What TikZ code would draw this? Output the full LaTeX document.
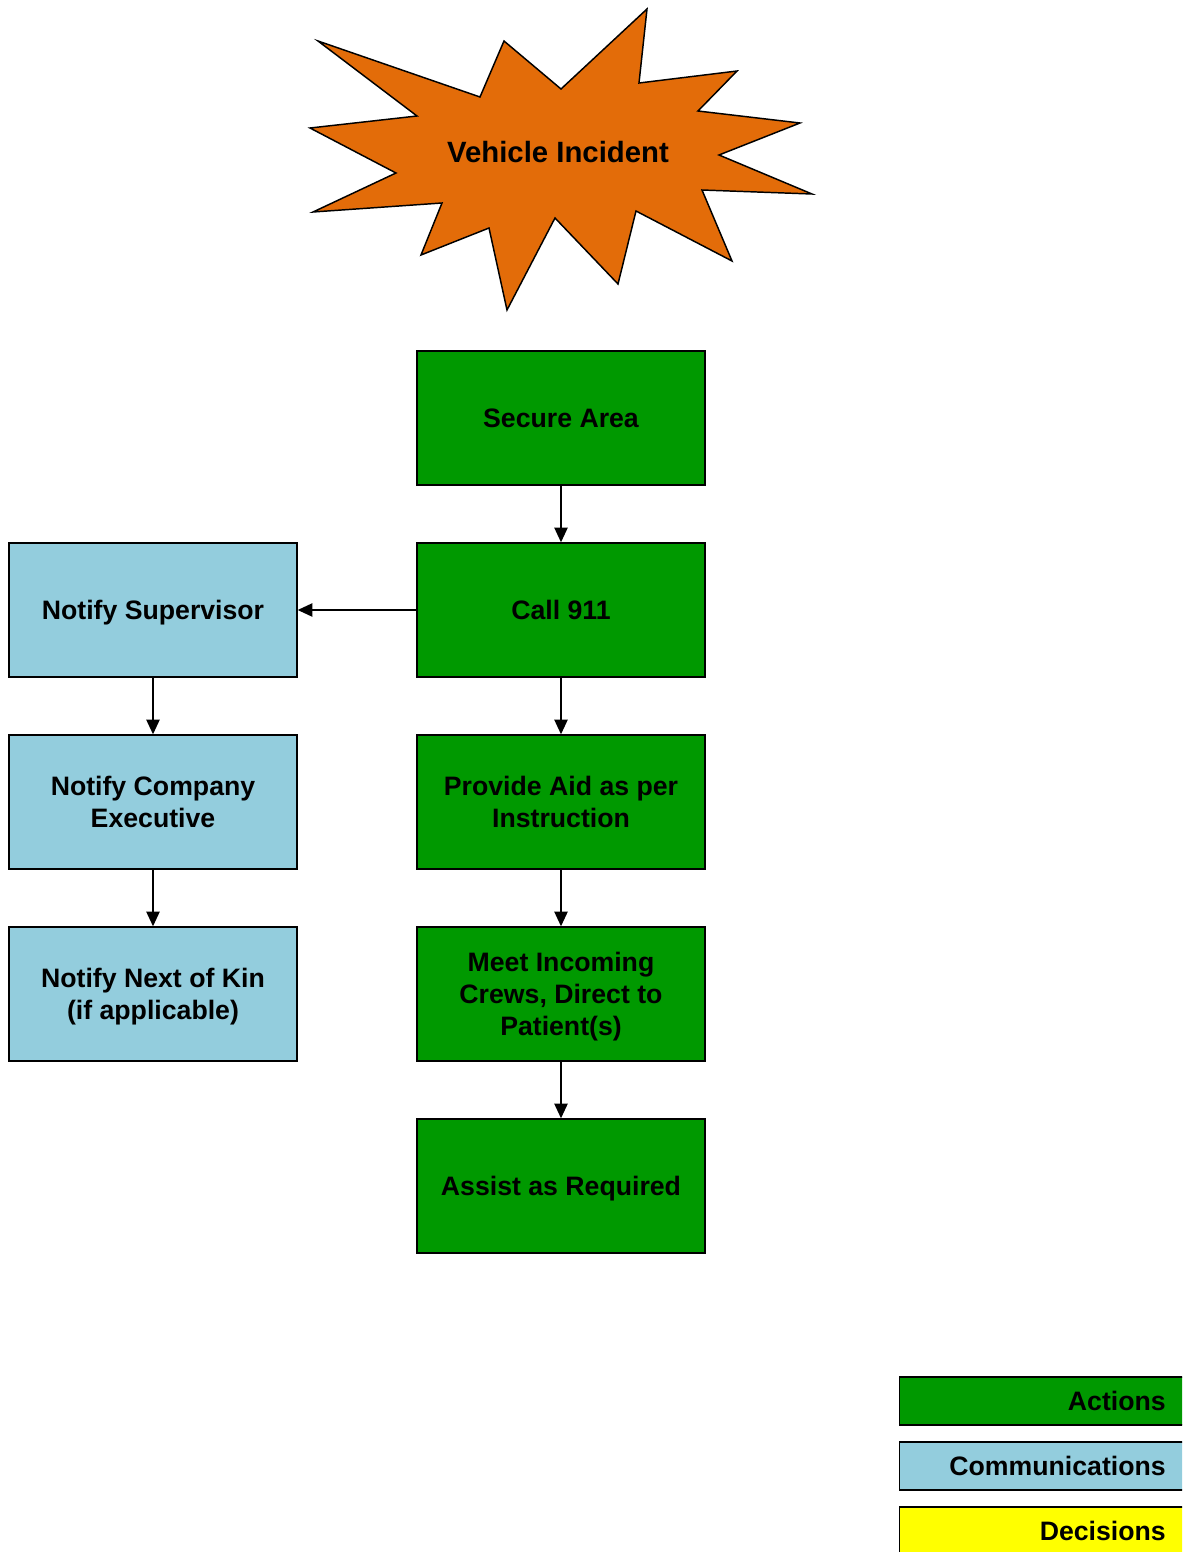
\documentclass[tikz,border=0pt]{standalone}
\usepackage{fontspec}
\setmainfont{Liberation Sans}
\usetikzlibrary{arrows.meta, positioning}
\definecolor{cgreen}{HTML}{009900}
\definecolor{cblue}{HTML}{93CDDD}
\definecolor{corange}{HTML}{E36C09}
\definecolor{cyellow}{HTML}{FFFF00}
\newcommand{\nodepthtext}[1]{\raisebox{0pt}[\height][0pt]{#1}}
\tikzset{
  every picture/.style={font=\fontsize{20}{24}\selectfont\bfseries, line width=1.1pt},
  box/.style={draw=black, fill=#1, align=center, minimum width=216pt, minimum height=100.5pt, inner sep=4pt},
  box/.default=cgreen,
  oneline/.style={text height=14.5pt, text depth=0pt},
  arrow/.style={-{Triangle[length=11pt, width=10pt]}, draw=black, line width=1.1pt},
  key/.style={draw=black, fill=#1, anchor=west, minimum width=225pt, minimum height=36pt, text width=174pt, align=right, inner xsep=25.5pt},
}

\begin{document}
\begin{tikzpicture}[x=0.75pt, y=-0.75pt]
  \useasboundingbox (0,0) rectangle (1182,1552);
  \clip (0,0) rectangle (1182,1552);
  % the burst
  \draw[fill=corange, line width=1.1pt, line join=miter]
    (318,41) -- (480,97) -- (504,41) -- (561,89) -- (647,9) -- (639,83) -- (737,71) -- (698,111)
    -- (800,123) -- (719,155) -- (812,194) -- (702,190) -- (732,261) -- (636,211) -- (618,284)
    -- (555,218) -- (507,310) -- (489,228) -- (421,255) -- (442,203) -- (313,212) -- (396,173)
    -- (310,128) -- (417,116) -- cycle;
  \node[font=\fontsize{22}{26}\selectfont\bfseries] (vi) at (558,152) {Vehicle Incident};
  % actions
  \node[box=cgreen, oneline] (sec) at (561,418) {Secure Area};
  \node[box=cgreen, oneline] (call) at (561,610) {Call 911};
  \node[box=cgreen] (aid) at (561,802) {Provide Aid as per\\Instruction};
  \node[box=cgreen] (meet) at (561,994) {Meet Incoming\\Crews, Direct to\\\nodepthtext{Patient(s)}};
  \node[box=cgreen, oneline] (assist) at (561,1186) {Assist as Required};
  % communications
  \node[box=cblue, oneline] (sup) at (153,610) {Notify Supervisor};
  \node[box=cblue] (exec) at (153,802) {Notify Company\\Executive};
  \node[box=cblue] (kin) at (153,994) {Notify Next of Kin\\\nodepthtext{(if applicable)}};
  \draw[arrow] (sec) -- (call);
  \draw[arrow] (call) -- (aid);
  \draw[arrow] (aid) -- (meet);
  \draw[arrow] (meet) -- (assist);
  \draw[arrow] (call) -- (sup);
  \draw[arrow] (sup) -- (exec);
  \draw[arrow] (exec) -- (kin);
  % legend
  \node[key=cgreen] (lact) at (899,1401) {Actions};
  \node[key=cblue] (lcom) at (899,1466) {Communications};
  \node[key=cyellow] (ldec) at (899,1531) {Decisions};
\end{tikzpicture}
\end{document}
